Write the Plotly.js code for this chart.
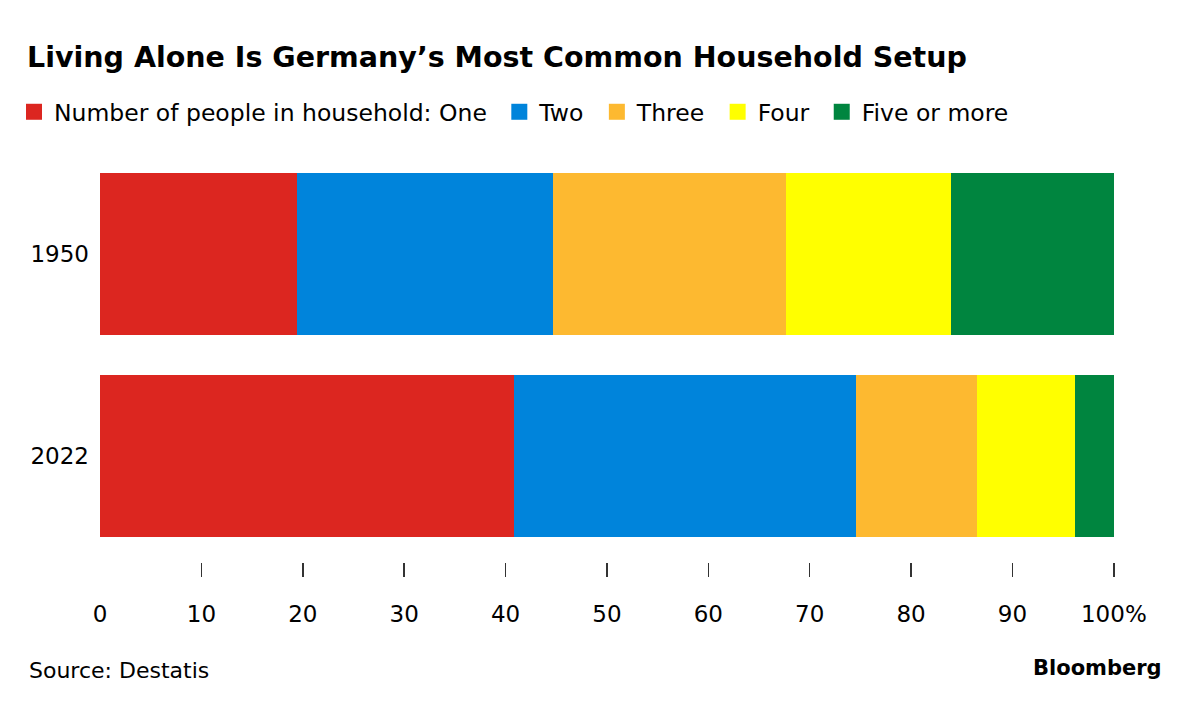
<!DOCTYPE html>
<html>
<head>
<meta charset="utf-8">
<script src="https://cdn.plot.ly/plotly-3.0.1.min.js"></script>
<style>html,body{margin:0;padding:0;background:#fff;}#chart{width:1200px;height:711px;}</style>
</head>
<body>
<div id="chart"></div>
<script>
const years = ["1950", "2022"];
const seriesNames = ["Number of people in household: One", "Two", "Three", "Four", "Five or more"];
const one = [19.4, 40.8];
const two = [25.3, 33.8];
const three = [23.0, 11.9];
const four = [16.2, 9.7];
const fiveOrMore = [16.1, 3.8];
const colors = ["#dc2620", "#0084db", "#fdb930", "#ffff00", "#00853f"];
const tickValues = [0, 10, 20, 30, 40, 50, 60, 70, 80, 90, 100];
const tickLabels = ["0", "10", "20", "30", "40", "50", "60", "70", "80", "90", "100%"];

const FONT = "DejaVu Sans, Liberation Sans, Arial, sans-serif";
const series = [one, two, three, four, fiveOrMore];
const traces = [];
series.forEach((vals, i) => {
  traces.push({
    type: "bar", orientation: "h", y: years, x: vals,
    marker: {color: colors[i], line: {width: 0}},
    showlegend: false, hoverinfo: "x+y", name: seriesNames[i]
  });
});
series.forEach((vals, i) => {
  traces.push({
    type: "scatter", mode: "markers", x: [null], y: [null],
    marker: {symbol: "square", size: 20, color: colors[i]},
    name: seriesNames[i] + (i < series.length - 1 ? "&nbsp;" : ""), showlegend: true
  });
});

// plot frame (pixels): value 0 at x=100, value 100 at x=1114; axis runs a bit past 100
// so the 100 tick mark stays inside the axis and is drawn (0 tick sits on the edge and is not)
const PLOT_L = 100, PLOT_R100 = 1114, PLOT_T = 173, PLOT_B = 577;
const X_MAX = 101;
const PAPER_R = PLOT_L + (PLOT_R100 - PLOT_L) * X_MAX / 100;
const px = v => (v - PLOT_L) / (PAPER_R - PLOT_L);
const py = v => (PLOT_B - v) / (PLOT_B - PLOT_T);

const layout = {
  width: 1200, height: 711,
  margin: {l: PLOT_L, r: 1200 - PAPER_R, t: PLOT_T, b: 711 - PLOT_B, autoexpand: false},
  paper_bgcolor: "#fff", plot_bgcolor: "#fff",
  barmode: "stack", bargap: 0.2,
  font: {family: FONT, color: "#000", size: 23},
  title: {text: "<b>Living Alone Is Germany’s Most Common Household Setup</b>",
          x: 27/1200, xanchor: "left", xref: "container",
          y: 1 - 57/711, yanchor: "middle", yref: "container",
          font: {family: FONT, size: 28.5, color: "#000"}},
  legend: {orientation: "h", traceorder: "normal", xref: "container", yref: "container",
           x: 14/1200, xanchor: "left", y: 1 - 112/711, yanchor: "middle",
           font: {family: FONT, size: 23.5, color: "#000"}, itemclick: false},
  xaxis: {range: [0, X_MAX], tickvals: tickValues, ticktext: tickLabels,
          ticks: "inside", ticklen: 14, tickwidth: 1.5, tickcolor: "#333",
          showgrid: false, zeroline: false, showline: false, fixedrange: true,
          ticklabelstandoff: 21, tickfont: {family: FONT, size: 23, color: "#000"}},
  yaxis: {type: "category", range: [1.6, -0.4], showgrid: false, zeroline: false, showline: false,
          ticks: "", ticklabelstandoff: 10, fixedrange: true,
          tickfont: {family: FONT, size: 23, color: "#000"}},
  annotations: [
    {text: "Source: Destatis", showarrow: false, xref: "paper", yref: "paper",
     x: px(27), xanchor: "left", y: py(670), yanchor: "middle",
     font: {family: FONT, size: 22, color: "#000"}},
    {text: "<b>Bloomberg</b>", showarrow: false, xref: "paper", yref: "paper",
     x: px(1164), xanchor: "right", y: py(668), yanchor: "middle",
     font: {family: FONT, size: 21, color: "#000"}}
  ]
};
Plotly.newPlot("chart", traces, layout, {displayModeBar: false, staticPlot: true});
</script>
</body>
</html>
